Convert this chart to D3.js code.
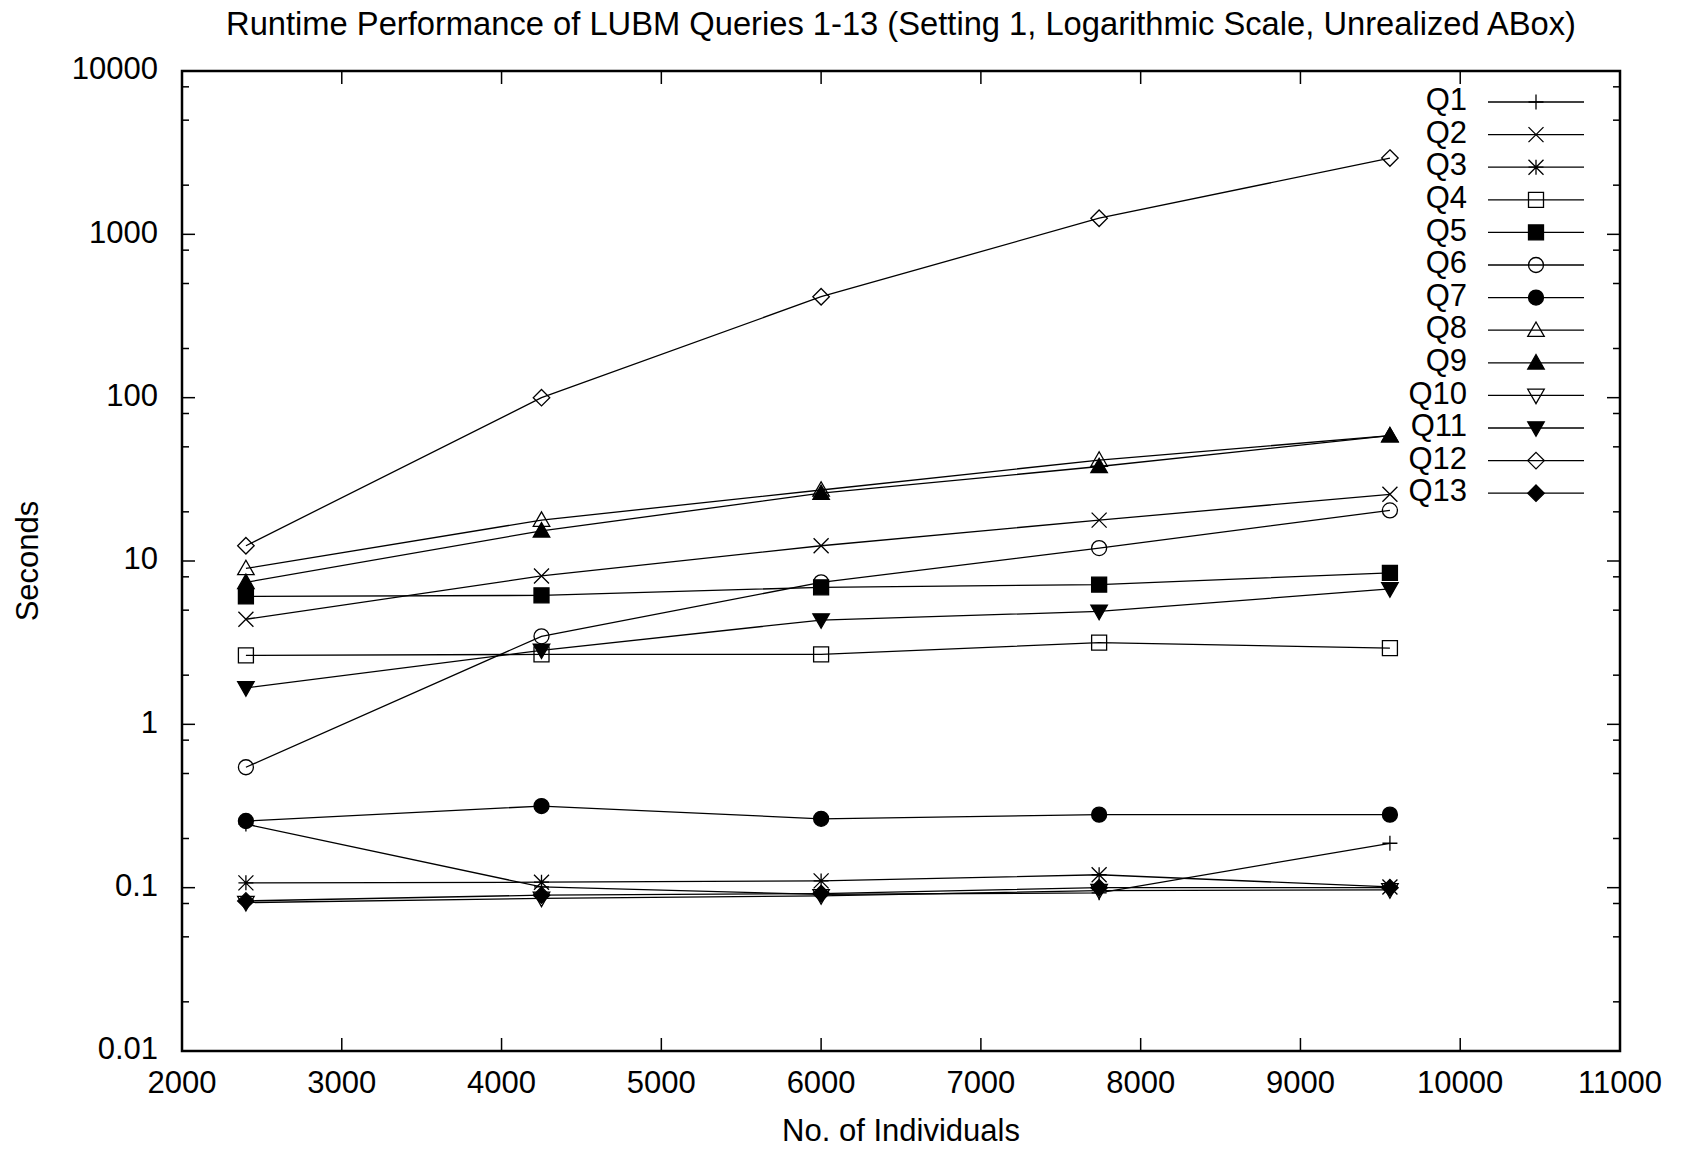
<!DOCTYPE html>
<html>
<head>
<meta charset="utf-8">
<script src="https://cdn.jsdelivr.net/npm/d3@7"></script>
<style>
  html, body { margin: 0; padding: 0; background: #fff; overflow: hidden; }
  svg { display: block; }
  text { font-family: "Liberation Sans", Arial, sans-serif; fill: #000; }
</style>
</head>
<body>
<svg id="chart"></svg>
<script>
// Данные графика
const individuals = [2400, 4250, 6000, 7740, 9560];
const seriesNames = ["Q1", "Q2", "Q3", "Q4", "Q5", "Q6", "Q7", "Q8", "Q9", "Q10", "Q11", "Q12", "Q13"];
const q1  = [0.245, 0.101, 0.091, 0.093, 0.187];
const q2  = [4.4, 8.1, 12.4, 17.8, 25.6];
const q3  = [0.107, 0.108, 0.110, 0.120, 0.101];
const q4  = [2.64, 2.68, 2.68, 3.16, 2.93];
const q5  = [6.07, 6.16, 6.9, 7.17, 8.47];
const q6  = [0.546, 3.46, 7.4, 12.0, 20.4];
const q7  = [0.256, 0.316, 0.264, 0.28, 0.28];
const q8  = [9.0, 17.8, 27.2, 41.5, 58.5];
const q9  = [7.4, 15.3, 26.0, 37.9, 58.5];
const q10 = [0.081, 0.086, 0.089, 0.096, 0.097];
const q11 = [1.67, 2.84, 4.35, 4.91, 6.75];
const q12 = [12.4, 100, 415, 1255, 2930];
const q13 = [0.083, 0.090, 0.092, 0.100, 0.100];
const seriesValues = [q1, q2, q3, q4, q5, q6, q7, q8, q9, q10, q11, q12, q13];
const markerTypes = ["plus", "x", "star", "square", "squareF", "circle", "circleF",
                     "tri", "triF", "triDown", "triDownF", "diamond", "diamondF"];
const xTicks = [2000, 3000, 4000, 5000, 6000, 7000, 8000, 9000, 10000, 11000];
const yTicks = [0.01, 0.1, 1, 10, 100, 1000, 10000];
const yMinor = [2, 5, 8];

const width = 1684, height = 1149;
const margin = { left: 182, right: 64, top: 71, bottom: 98 };
const fontSize = 31;

const svg = d3.select("#chart").attr("width", width).attr("height", height);

// Шкалы
const xScale = d3.scaleLinear().domain([2000, 11000]).range([margin.left, width - margin.right]);
const yScale = d3.scaleLog().domain([0.01, 10000]).range([height - margin.bottom, margin.top]);
const x0 = xScale.range()[0], x1 = xScale.range()[1];
const y0 = yScale.range()[0], y1 = yScale.range()[1];

// Заголовок
svg.append("text")
   .attr("x", (x0 + x1) / 2).attr("y", 26)
   .attr("text-anchor", "middle").attr("dominant-baseline", "middle")
   .attr("font-size", 32.7)
   .text("Runtime Performance of LUBM Queries 1-13 (Setting 1, Logarithmic Scale, Unrealized ABox)");

// Деления оси X (внутрь, с обеих сторон)
const ticks = svg.append("g").attr("stroke", "#000").attr("stroke-width", 1.5);
xTicks.forEach(t => {
    ticks.append("line").attr("x1", xScale(t)).attr("x2", xScale(t)).attr("y1", y0).attr("y2", y0 - 13);
    ticks.append("line").attr("x1", xScale(t)).attr("x2", xScale(t)).attr("y1", y1).attr("y2", y1 + 13);
});
svg.append("g").selectAll("text").data(xTicks).enter().append("text")
   .attr("x", d => xScale(d)).attr("y", y0 + 34)
   .attr("text-anchor", "middle").attr("dominant-baseline", "middle")
   .attr("font-size", fontSize).text(d => d);

// Деления оси Y (логарифм.)
yTicks.forEach(t => {
    ticks.append("line").attr("x1", x0).attr("x2", x0 + 13).attr("y1", yScale(t)).attr("y2", yScale(t));
    ticks.append("line").attr("x1", x1).attr("x2", x1 - 13).attr("y1", yScale(t)).attr("y2", yScale(t));
});
yTicks.slice(0, -1).forEach(t => {
    yMinor.forEach(m => {
        const v = t * m;
        ticks.append("line").attr("x1", x0).attr("x2", x0 + 7).attr("y1", yScale(v)).attr("y2", yScale(v));
        ticks.append("line").attr("x1", x1).attr("x2", x1 - 7).attr("y1", yScale(v)).attr("y2", yScale(v));
    });
});
svg.append("g").selectAll("text").data(yTicks).enter().append("text")
   .attr("x", x0 - 24).attr("y", d => yScale(d))
   .attr("text-anchor", "end").attr("dominant-baseline", "middle")
   .attr("font-size", fontSize).text(d => d);

// Подписи осей
svg.append("text")
   .attr("x", (x0 + x1) / 2).attr("y", 1133)
   .attr("text-anchor", "middle").attr("dominant-baseline", "middle")
   .attr("font-size", fontSize).text("No. of Individuals");
svg.append("text")
   .attr("transform", "translate(30," + ((y0 + y1) / 2) + ") rotate(-90)")
   .attr("text-anchor", "middle").attr("dominant-baseline", "middle")
   .attr("font-size", fontSize).text("Seconds");

// Рамка
svg.append("rect")
   .attr("x", x0).attr("y", y1).attr("width", x1 - x0).attr("height", y0 - y1)
   .attr("fill", "none").attr("stroke", "#000").attr("stroke-width", 2.5);

// Маркеры в стиле gnuplot
function markerPath(type, r) {
    const p = d3.path();
    const t = r * 1.1;
    switch (type) {
        case "plus":
            p.moveTo(-r, 0); p.lineTo(r, 0); p.moveTo(0, -r); p.lineTo(0, r); break;
        case "x":
            p.moveTo(-r, -r); p.lineTo(r, r); p.moveTo(-r, r); p.lineTo(r, -r); break;
        case "star":
            p.moveTo(-r, 0); p.lineTo(r, 0); p.moveTo(0, -r); p.lineTo(0, r);
            p.moveTo(-r, -r); p.lineTo(r, r); p.moveTo(-r, r); p.lineTo(r, -r); break;
        case "square": case "squareF":
            p.rect(-r, -r, 2 * r, 2 * r); break;
        case "circle": case "circleF":
            p.moveTo(r, 0); p.arc(0, 0, r, 0, 2 * Math.PI); break;
        case "tri": case "triF":
            p.moveTo(0, -t); p.lineTo(t, t * 0.75); p.lineTo(-t, t * 0.75); p.closePath(); break;
        case "triDown": case "triDownF":
            p.moveTo(0, t); p.lineTo(t, -t * 0.75); p.lineTo(-t, -t * 0.75); p.closePath(); break;
        case "diamond": case "diamondF":
            p.moveTo(0, -t); p.lineTo(t, 0); p.lineTo(0, t); p.lineTo(-t, 0); p.closePath(); break;
    }
    return p.toString();
}
const isFilled = type => type.endsWith("F");

// Линии и точки
const line = d3.line().x((d, i) => xScale(individuals[i])).y(d => yScale(d));
seriesValues.forEach((vals, k) => {
    const type = markerTypes[k];
    svg.append("path").datum(vals).attr("d", line)
       .attr("fill", "none").attr("stroke", "#000").attr("stroke-width", 1.3);
    svg.append("g").selectAll("path").data(vals).enter().append("path")
       .attr("transform", (d, i) => "translate(" + xScale(individuals[i]) + "," + yScale(d) + ")")
       .attr("d", markerPath(type, 7.5))
       .attr("fill", isFilled(type) ? "#000" : "none")
       .attr("stroke", "#000").attr("stroke-width", 1.3);
});

// Легенда
const legend = svg.append("g");
seriesNames.forEach((name, k) => {
    const ly = 102 + k * 32.6;
    const type = markerTypes[k];
    legend.append("text").attr("x", 1467).attr("y", ly)
          .attr("text-anchor", "end").attr("dominant-baseline", "middle")
          .attr("font-size", fontSize).text(name);
    legend.append("line").attr("x1", 1488).attr("x2", 1584).attr("y1", ly).attr("y2", ly)
          .attr("stroke", "#000").attr("stroke-width", 1.3);
    legend.append("path").attr("transform", "translate(1536," + ly + ")")
          .attr("d", markerPath(type, 7.5))
          .attr("fill", isFilled(type) ? "#000" : "none")
          .attr("stroke", "#000").attr("stroke-width", 1.3);
});
</script>
</body>
</html>
